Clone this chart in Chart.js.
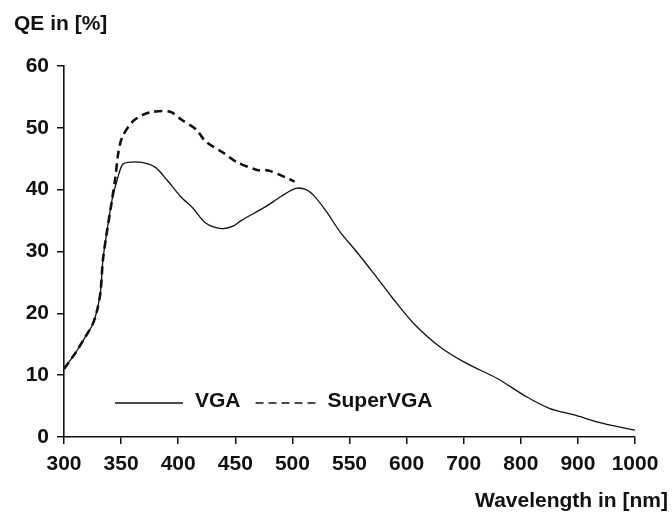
<!DOCTYPE html>
<html>
<head>
<meta charset="utf-8">
<script src="https://cdn.jsdelivr.net/npm/chart.js@4/dist/chart.umd.min.js"></script>
<style>
  html, body { margin: 0; padding: 0; background: #fff; }
  canvas { display: block; }
</style>
</head>
<body>
<canvas id="qe" width="672" height="513"></canvas>
<script>
// Tick labels of the wavelength axis (evenly spaced, step changes at 600 nm)
const wavelengthTicks = [300, 350, 400, 450, 500, 550, 600, 700, 800, 900, 1000];
const qeTicks = [0, 10, 20, 30, 40, 50, 60];

// VGA sensor quantum efficiency
const vgaWavelength = [300, 310, 318, 325, 329, 332, 334, 337, 342, 346, 351, 356, 368, 380, 390, 402, 413, 424, 438, 448, 455, 477, 490, 503, 512, 520, 530, 542, 556, 571, 588, 612, 658, 705, 758, 810, 851, 892, 944, 1000];
const vgaQE = [11.0, 13.6, 16.0, 18.2, 20.5, 23.5, 28.5, 32.5, 38.3, 41.2, 44.0, 44.4, 44.4, 43.6, 41.6, 38.9, 37.0, 34.6, 33.7, 34.1, 35.0, 37.3, 38.9, 40.2, 40.0, 38.8, 36.4, 33.1, 30.0, 26.5, 22.4, 18.4, 14.6, 11.9, 9.5, 6.5, 4.6, 3.6, 2.2, 1.1];

// SuperVGA sensor quantum efficiency
const superVgaWavelength = [300, 310, 318, 325, 329, 332, 334, 337, 342, 345, 347.5, 351, 360, 369, 378, 393, 403, 416, 424, 440, 451, 469, 479, 495, 502];
const superVgaQE = [11.0, 13.6, 16.0, 18.2, 20.5, 23.5, 28.5, 32.5, 38.3, 42.0, 45.9, 48.5, 51.0, 52.1, 52.6, 52.6, 51.3, 49.7, 47.8, 45.9, 44.5, 43.2, 43.1, 41.9, 41.3];

const seriesNames = ['VGA', 'SuperVGA'];
const yTitle = 'QE in [%]';
const xTitle = 'Wavelength in [nm]';

// Map a wavelength onto the evenly spaced tick positions
function toAxis(nm) {
  const n = wavelengthTicks.length;
  for (let i = 0; i < n - 1; i++) {
    const a = wavelengthTicks[i], b = wavelengthTicks[i + 1];
    if (nm <= b || i === n - 2) return i + (nm - a) / (b - a);
  }
}
function points(xs, ys) {
  return xs.map((w, i) => ({ x: toAxis(w), y: ys[i] }));
}

const FONT = '"Liberation Sans", Arial, sans-serif';
const SIZE = 21;
const INK = '#111';

// Axis titles and the in-plot legend
const labelsPlugin = {
  id: 'labels',
  afterDraw(chart) {
    const ctx = chart.ctx;
    ctx.save();
    ctx.fillStyle = INK;
    ctx.font = 'bold ' + SIZE + 'px ' + FONT;
    ctx.textBaseline = 'alphabetic';
    ctx.textAlign = 'left';
    ctx.fillText(yTitle, 14, 30);
    ctx.textAlign = 'right';
    ctx.fillText(xTitle, 668, 507);

    // legend row
    let x = 115;
    const lineY = 403, textY = 407;
    chart.data.datasets.forEach((ds, i) => {
      const len = i === 0 ? 68 : 60;
      ctx.strokeStyle = INK;
      ctx.lineWidth = 1.5;
      ctx.setLineDash(ds.borderDash || []);
      ctx.beginPath();
      ctx.moveTo(x, lineY);
      ctx.lineTo(x + len, lineY);
      ctx.stroke();
      ctx.setLineDash([]);
      x += len + 12;
      ctx.textAlign = 'left';
      ctx.fillText(ds.label, x, textY);
      x += ctx.measureText(ds.label).width + 15;
    });
    ctx.restore();
  }
};

new Chart(document.getElementById('qe'), {
  type: 'line',
  data: {
    datasets: [
      {
        label: seriesNames[0],
        data: points(vgaWavelength, vgaQE),
        borderColor: INK,
        borderWidth: 1.3,
        pointRadius: 0,
        tension: 0.3,
        fill: false
      },
      {
        label: seriesNames[1],
        data: points(superVgaWavelength, superVgaQE),
        borderColor: INK,
        borderWidth: 2.6,
        borderDash: [8, 5],
        pointRadius: 0,
        tension: 0.3,
        fill: false
      }
    ]
  },
  options: {
    responsive: false,
    animation: false,
    devicePixelRatio: 1,
    layout: { padding: { top: 66, right: 37, left: 0, bottom: 0 } },
    plugins: { legend: { display: false }, tooltip: { enabled: false } },
    scales: {
      x: {
        type: 'linear',
        min: 0,
        max: wavelengthTicks.length - 1,
        afterBuildTicks: s => { s.ticks = wavelengthTicks.map((w, i) => ({ value: i })); },
        afterFit: s => { s.height = 76; },
        ticks: {
          callback: v => wavelengthTicks[Math.round(v)],
          color: INK,
          font: { family: FONT, size: SIZE, weight: 'bold' },
          padding: 8,
          maxRotation: 0,
          autoSkip: false
        },
        grid: { drawOnChartArea: false, drawTicks: true, tickLength: 7, color: INK, lineWidth: 1.5 },
        border: { display: true, color: INK, width: 1.6 }
      },
      y: {
        type: 'linear',
        min: 0,
        max: 60,
        afterBuildTicks: s => { s.ticks = qeTicks.map(v => ({ value: v })); },
        afterFit: s => { s.width = 64; },
        ticks: {
          color: INK,
          font: { family: FONT, size: SIZE, weight: 'bold' },
          padding: 8
        },
        grid: { drawOnChartArea: false, drawTicks: true, tickLength: 7, color: INK, lineWidth: 1.5 },
        border: { display: true, color: INK, width: 1.6 }
      }
    }
  },
  plugins: [labelsPlugin]
});
</script>
</body>
</html>
